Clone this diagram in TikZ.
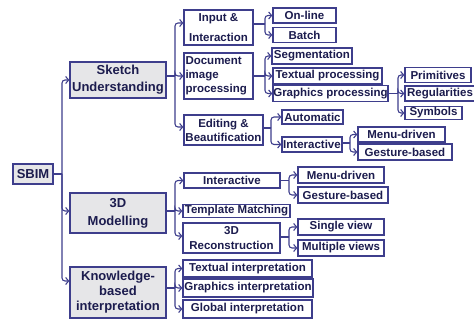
\documentclass[tikz,border=0pt]{standalone}
\usepackage{fontspec}
\setmainfont{Liberation Sans}
\usetikzlibrary{arrows.meta}
\definecolor{bord}{RGB}{62,62,140}
\definecolor{txt}{RGB}{28,28,78}
\definecolor{mainfill}{RGB}{230,230,232}
\tikzset{
  box/.style={draw=bord, line width=1.3pt, inner sep=0pt, text=txt, align=center},
  sz/.style 2 args={minimum width=#1pt, minimum height=#2pt},
  mainbox/.style={box, fill=mainfill, font=\fontsize{13}{16}\selectfont\bfseries},
  subbox/.style={box, fill=white, font=\fontsize{11.5}{13}\selectfont\bfseries},
  conn/.style={draw=bord, line width=1.1pt, rounded corners=3pt},
  arr/.style={conn, -{Straight Barb[length=3pt,width=7pt,line width=1.1pt]}},
}
\begin{document}
\begin{tikzpicture}[x=1pt,y=-1pt]
\useasboundingbox (0,0) rectangle (474,320);
% level 0 / 1
\node[mainbox, sz={40}{20}] (sbim) at (33,174) {SBIM};
\node[mainbox, sz={96}{36}, font=\fontsize{13}{17}\selectfont\bfseries] (sk) at (118,80) {Sketch\\Understanding};
\node[mainbox, sz={96}{40}, font=\fontsize{13}{18}\selectfont\bfseries] (md) at (118,213) {3D\\Modelling};
\node[mainbox, sz={96}{51}, font=\fontsize{13}{15}\selectfont\bfseries] (kb) at (118,292.5) {Knowledge-\\based\\interpretation};
% level 2 under Sketch Understanding
\node[subbox, sz={69}{35}, font=\fontsize{11.5}{20}\selectfont\bfseries] (inp) at (218.5,27.5) {Input \&\\Interaction};
\node[subbox, sz={69}{46}, text width=66pt, align=left, font=\fontsize{11.5}{14}\selectfont\bfseries] (doc) at (218.5,76) {Document\\image\\processing};
\node[subbox, sz={79}{30}, font=\fontsize{11.5}{14}\selectfont\bfseries] (ed) at (223.5,130) {Editing \&\\Beautification};
% level 3
\node[subbox, sz={63}{15}] (on) at (304.5,15.5) {On-line};
\node[subbox, sz={63}{15}] (bat) at (304.5,35) {Batch};
\node[subbox, sz={80}{16}] (seg) at (312,56) {Segmentation};
\node[subbox, sz={109}{16}] (tp) at (327.5,76) {Textual processing};
\node[subbox, sz={115}{16}] (gp) at (330.5,93.5) {Graphics processing};
\node[subbox, sz={66}{15}] (prim) at (438,75) {Primitives};
\node[subbox, sz={70}{15}] (reg) at (440,93.5) {Regularities};
\node[subbox, sz={57}{13}] (sym) at (433.5,113) {Symbols};
\node[subbox, sz={61}{14}] (auto) at (312.5,117) {Automatic};
\node[subbox, sz={60}{15}] (int1) at (312,144.5) {Interactive};
\node[subbox, sz={87}{15}] (m1) at (401.5,134.5) {Menu-driven};
\node[subbox, sz={94}{16}] (g1) at (405,152) {Gesture-based};
% level 2 under 3D Modelling
\node[subbox, sz={96}{15}] (int3) at (232,180.5) {Interactive};
\node[subbox, sz={107}{13}] (tm) at (236.5,211) {Template Matching};
\node[subbox, sz={97}{30}, font=\fontsize{11.5}{15}\selectfont\bfseries] (rec) at (231.5,238) {3D\\Reconstruction};
\node[subbox, sz={86}{16}] (m3) at (341,175) {Menu-driven};
\node[subbox, sz={90}{16}] (g3) at (343,195) {Gesture-based};
\node[subbox, sz={86}{16}] (sv) at (341,227) {Single view};
\node[subbox, sz={86}{16}] (mv) at (341,248) {Multiple views};
% level 2 under Knowledge
\node[subbox, sz={129}{17}] (ti) at (247.5,268.5) {Textual interpretation};
\node[subbox, sz={130}{18}] (gi) at (248,288) {Graphics interpretation};
\node[subbox, sz={129}{18}] (gl) at (247.5,309) {Global interpretation};
% junctions
\coordinate (t0) at (62,174);
\coordinate (j1) at (175,76);
\coordinate (j2) at (175,211);
\coordinate (j3) at (175,288);
\coordinate (j4) at (265,24);
\coordinate (j5) at (265,76);
\coordinate (j6) at (271,128);
\coordinate (j7) at (398,93.5);
\coordinate (j8) at (350,143);
\coordinate (j9) at (289,180.5);
\coordinate (j10) at (289,237);
% connectors
\draw[conn] (sbim.east) -- (t0);
\draw[arr] (t0) |- (sk.west);
\draw[arr] (t0) |- (md.west |- j2);
\draw[arr] (t0) |- ([yshift=11.5pt]kb.west);

\draw[conn] (sk.east |- j1) -- (j1);
\draw[arr] (j1) |- ([yshift=4.5pt]inp.west);
\draw[arr] (j1) |- (doc.west);
\draw[arr] (j1) |- ([yshift=3pt]ed.west);

\draw[conn] (inp.east |- j4) -- (j4);
\draw[arr] (j4) |- (on.west);
\draw[arr] (j4) |- (bat.west);

\draw[conn] (doc.east |- j5) -- (j5);
\draw[arr] (j5) |- (seg.west);
\draw[arr] (j5) |- (tp.west);
\draw[arr] (j5) |- (gp.west);

\draw[conn] (gp.east) -- (j7);
\draw[arr] (j7) |- (prim.west);
\draw[arr] (j7) |- (reg.west);
\draw[arr] (j7) |- (sym.west);

\draw[conn] (ed.east |- j6) -- (j6);
\draw[arr] (j6) |- (auto.west);
\draw[arr] (j6) |- (int1.west);

\draw[conn] (int1.east |- j8) -- (j8);
\draw[arr] (j8) |- (m1.west);
\draw[arr] (j8) |- (g1.west);

\draw[conn] (md.east |- j2) -- (j2);
\draw[arr] (j2) |- (int3.west);
\draw[arr] (j2) |- (tm.west);
\draw[arr] (j2) |- ([yshift=2pt]rec.west);

\draw[conn] (int3.east) -- (j9);
\draw[arr] (j9) |- (m3.west);
\draw[arr] (j9) |- (g3.west);

\draw[conn] (rec.east |- j10) -- (j10);
\draw[arr] (j10) |- (sv.west);
\draw[arr] (j10) |- (mv.west);

\draw[conn] (kb.east |- j3) -- (j3);
\draw[arr] (j3) |- (ti.west);
\draw[arr] (j3) |- (gi.west);
\draw[arr] (j3) |- (gl.west);
\end{tikzpicture}
\end{document}
